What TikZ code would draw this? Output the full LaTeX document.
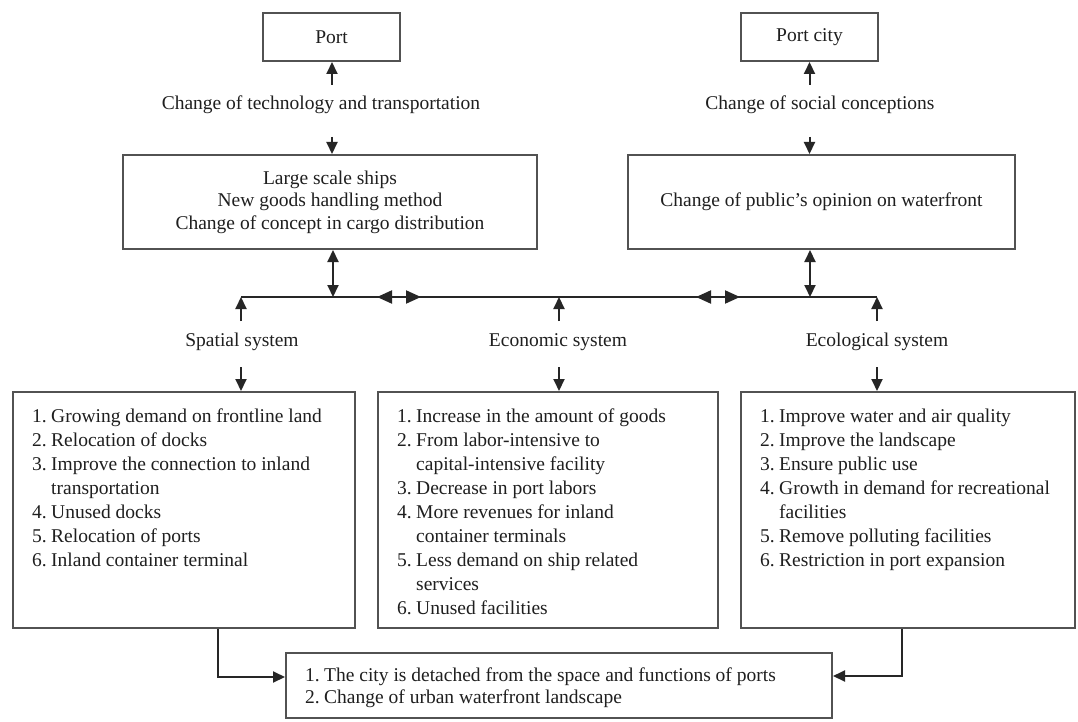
\documentclass[tikz,border=0pt]{standalone}
\usepackage{fontspec}
\setmainfont{Liberation Serif}
\usetikzlibrary{arrows.meta}
\newcommand\itm[2]{\makebox[19pt][l]{#1}#2}
\newcommand\cnt[1]{\hspace*{19pt}#1}
\begin{document}
\begin{tikzpicture}[x=1pt,y=-1pt,
  box/.style={draw=black!68, line width=2pt, inner sep=0pt, text=black!88,
    font=\fontsize{19.5}{22.5}\selectfont, align=center},
  lbl/.style={inner sep=0pt, text=black!88, font=\fontsize{19.5}{24}\selectfont},
  conn/.style={draw=black!85, line width=2pt},
  arr/.style={conn, -{Triangle[length=12pt,width=11pt]}},
  darr/.style={conn, {Triangle[length=12pt,width=11pt]}-{Triangle[length=12pt,width=11pt]}},
  sdarr/.style={conn, {Triangle[length=15pt,width=13pt]}-{Triangle[length=15pt,width=13pt]}},
]
\path[use as bounding box, fill=white] (0,0) rectangle (1078,722);

% top boxes
\node[box, minimum width=137pt, minimum height=48pt] (port) at (331.5,37) {Port};
\node[box, minimum width=137pt, minimum height=48pt] (portcity) at (809.5,37) {Port city};

\node[lbl] (tech) at (321,105) {Change of technology and transportation};
\node[lbl] (social) at (820,105) {Change of social conceptions};

\node[box, minimum width=414pt, minimum height=94pt] (bigL) at (330,202)
  {Large scale ships\\ New goods handling method\\ Change of concept in cargo distribution};
\node[box, minimum width=387pt, minimum height=94pt] (bigR) at (821.5,202)
  {Change of public’s opinion on waterfront};

% arrows top
\coordinate (t1) at (332,85);
\coordinate (t2) at (332,137);
\coordinate (t3) at (809.5,85);
\coordinate (t4) at (809.5,137);
\draw[arr] (t1) -- (t1 |- port.south);
\draw[arr] (t2) -- (t2 |- bigL.north);
\draw[arr] (t3) -- (t3 |- portcity.south);
\draw[arr] (t4) -- (t4 |- bigR.north);

% junction line
\coordinate (jl) at (333,297);
\coordinate (jr) at (810,297);
\coordinate (hl) at (241,297);
\coordinate (hm) at (559,297);
\coordinate (hr) at (877,297);
\draw[conn] (hl) -- (hr);
\draw[darr] (jl |- bigL.south) -- (jl);
\draw[darr] (jr |- bigR.south) -- (jr);
\coordinate (d1a) at (377,297);
\coordinate (d1b) at (421,297);
\coordinate (d2a) at (696,297);
\coordinate (d2b) at (740,297);
\draw[sdarr] (d1a) -- (d1b);
\draw[sdarr] (d2a) -- (d2b);

% system labels
\node[lbl] (spatial) at (242,342) {Spatial system};
\node[lbl] (economic) at (558,342) {Economic system};
\node[lbl] (ecological) at (877,342) {Ecological system};

% list boxes
\node[box, minimum width=342pt, minimum height=236pt] (sbox) at (184,510) {};
\node[box, minimum width=340pt, minimum height=236pt] (ebox) at (548,510) {};
\node[box, minimum width=334pt, minimum height=236pt] (cbox) at (908,510) {};

\coordinate (u1) at (241,321);
\coordinate (u2) at (559,321);
\coordinate (u3) at (877,321);
\draw[arr] (u1) -- (hl);
\draw[arr] (u2) -- (hm);
\draw[arr] (u3) -- (hr);
\coordinate (v1) at (241,367);
\coordinate (v2) at (559,367);
\coordinate (v3) at (877,367);
\draw[arr] (v1) -- (v1 |- sbox.north);
\draw[arr] (v2) -- (v2 |- ebox.north);
\draw[arr] (v3) -- (v3 |- cbox.north);

\node[lbl, anchor=base west] (stext) at (32,422.5) {\parbox[t]{320pt}{%
\itm{1.}{Growing demand on frontline land}\\
\itm{2.}{Relocation of docks}\\
\itm{3.}{Improve the connection to inland}\\
\cnt{transportation}\\
\itm{4.}{Unused docks}\\
\itm{5.}{Relocation of ports}\\
\itm{6.}{Inland container terminal}}};

\node[lbl, anchor=base west] (etext) at (397,422.5) {\parbox[t]{315pt}{%
\itm{1.}{Increase in the amount of goods}\\
\itm{2.}{From labor-intensive to}\\
\cnt{capital-intensive facility}\\
\itm{3.}{Decrease in port labors}\\
\itm{4.}{More revenues for inland}\\
\cnt{container terminals}\\
\itm{5.}{Less demand on ship related}\\
\cnt{services}\\
\itm{6.}{Unused facilities}}};

\node[lbl, anchor=base west] (ctext) at (760,422.5) {\parbox[t]{310pt}{%
\itm{1.}{Improve water and air quality}\\
\itm{2.}{Improve the landscape}\\
\itm{3.}{Ensure public use}\\
\itm{4.}{Growth in demand for recreational}\\
\cnt{facilities}\\
\itm{5.}{Remove polluting facilities}\\
\itm{6.}{Restriction in port expansion}}};

% bottom box
\node[box, minimum width=546pt, minimum height=65pt] (bbox) at (559,685.5) {};
\node[lbl, anchor=base west] (btext) at (305,681) {\parbox[t]{520pt}{\fontsize{19.5}{22}\selectfont
\itm{1.}{The city is detached from the space and functions of ports}\\
\itm{2.}{Change of urban waterfront landscape}}};

\coordinate (b1) at (218,677);
\coordinate (b2) at (902,676);
\draw[arr] (b1 |- sbox.south) -- (b1) -- (b1 -| bbox.west);
\draw[arr] (b2 |- cbox.south) -- (b2) -- (b2 -| bbox.east);
\end{tikzpicture}
\end{document}
